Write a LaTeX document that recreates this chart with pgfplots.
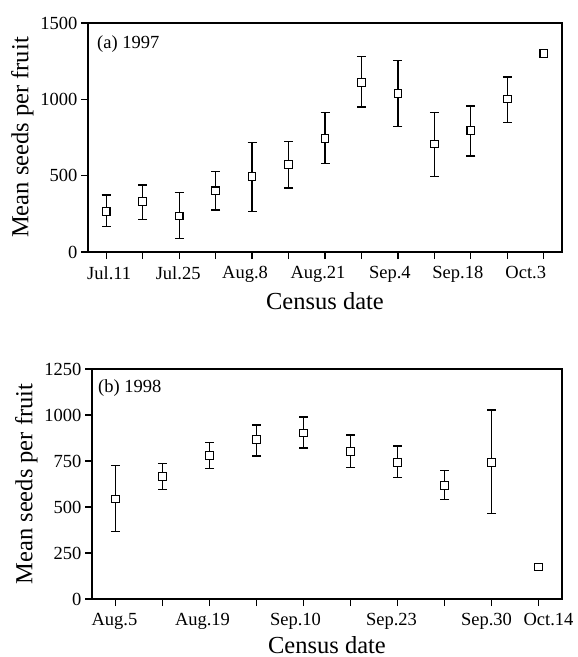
\documentclass[border=0pt]{standalone}
\usepackage{fontspec}
\setmainfont{Liberation Serif}
\usepackage{pgfplots}
\usepackage{pgfplotstable}
\pgfplotsset{compat=1.18}
\newcommand\sh[2]{\makebox[0pt]{\hspace*{#1}#2}}
\pgfplotstableread{
x y ep em
1 264 109 98
2 330 109 116
3 236 155 149
4 401 125 126
5 493 223 227
6 572 153 153
7 745 168 164
8 1111 170 161
9 1039 214 218
10 707 206 214
11 795 161 166
12 1002 144 153
}\dataA
\pgfplotstableread{
x y
13 1301
}\dataAlast
\pgfplotstableread{
x y ep em
1 543 181 177
2 666 69 72
3 781 70 73
4 866 79 89
5 902 87 81
6 802 89 87
7 742 89 81
8 616 81 75
9 742 285 277
}\dataB
\pgfplotstableread{
x y
10 174
}\dataBlast
\pgfplotsset{
  myax/.style={
    scale only axis,
    anchor=south west,
    xmin=0.5,
    axis line style={line width=1.3pt},
    every tick/.style={line width=1.3pt, black},
    tick align=outside, tick pos=left,
    major tick length=7pt,
    ticklabel style={font=\fontsize{18.5}{21}\selectfont},
    xticklabel style={yshift=-4pt},
    label style={font=\fontsize{24.5}{26}\selectfont},
    xlabel style={at={(axis description cs:0.5,0)}, anchor=base, yshift=-57pt},
    /pgf/number format/assume math mode=true,
    /pgf/number format/1000 sep={},
    ymin=0,
    xlabel={Census date},
    ylabel={Mean seeds per fruit},
    clip=false,
  },
  ptstyle/.style={only marks, black, mark=square*, mark size=3.8pt,
    mark options={fill=white, draw=black, line width=1.1pt}},
  ebstyle/.style={error bars/.cd, y dir=both, y explicit,
    error bar style={line width=1.3pt, black},
    error mark options={rotate=90, mark size=4.5pt, line width=1.3pt, black}},
}
\begin{document}
\begin{tikzpicture}[x=1pt,y=1pt]
\path[use as bounding box] (0,0) rectangle (578,657);
\begin{axis}[myax,
  at={(88pt,405pt)}, width=474pt, height=229pt,
  xmax=13.5, ymax=1500,
  xtick={1,...,13},
  xticklabels={\sh{6pt}{Jul.11},,\sh{-2pt}{Jul.25},,\sh{-14pt}{Aug.8},,\sh{-14pt}{Aug.21},,\sh{-16pt}{Sep.4},,\sh{-26pt}{Sep.18},,\sh{-36pt}{Oct.3}},
  ytick={0,500,1000,1500},
]
\addplot[ptstyle, ebstyle] table[x=x, y=y, y error plus=ep, y error minus=em] {\dataA};
\addplot[ptstyle] table[x=x, y=y] {\dataAlast};
\node[anchor=north west, font=\fontsize{18.5}{20}\selectfont, inner sep=0pt] at ([xshift=9pt, yshift=-12pt]rel axis cs:0,1) {(a) 1997};
\end{axis}
\begin{axis}[myax,
  at={(92pt,58pt)}, width=470pt, height=230pt,
  xmax=10.5, ymax=1250,
  xtick={1,...,10},
  xticklabels={\sh{-2pt}{Aug.5},,\sh{-14pt}{Aug.19},,\sh{-16pt}{Sep.10},,\sh{-12pt}{Sep.23},,\sh{-10pt}{Sep.30},\sh{20pt}{Oct.14}},
  ytick={0,250,500,750,1000,1250},
  xlabel style={yshift=3pt},
]
\addplot[ptstyle, ebstyle] table[x=x, y=y, y error plus=ep, y error minus=em] {\dataB};
\addplot[ptstyle] table[x=x, y=y] {\dataBlast};
\node[anchor=north west, font=\fontsize{18.5}{20}\selectfont, inner sep=0pt] at ([xshift=6pt, yshift=-10pt]rel axis cs:0,1) {(b) 1998};
\end{axis}
\end{tikzpicture}
\end{document}
